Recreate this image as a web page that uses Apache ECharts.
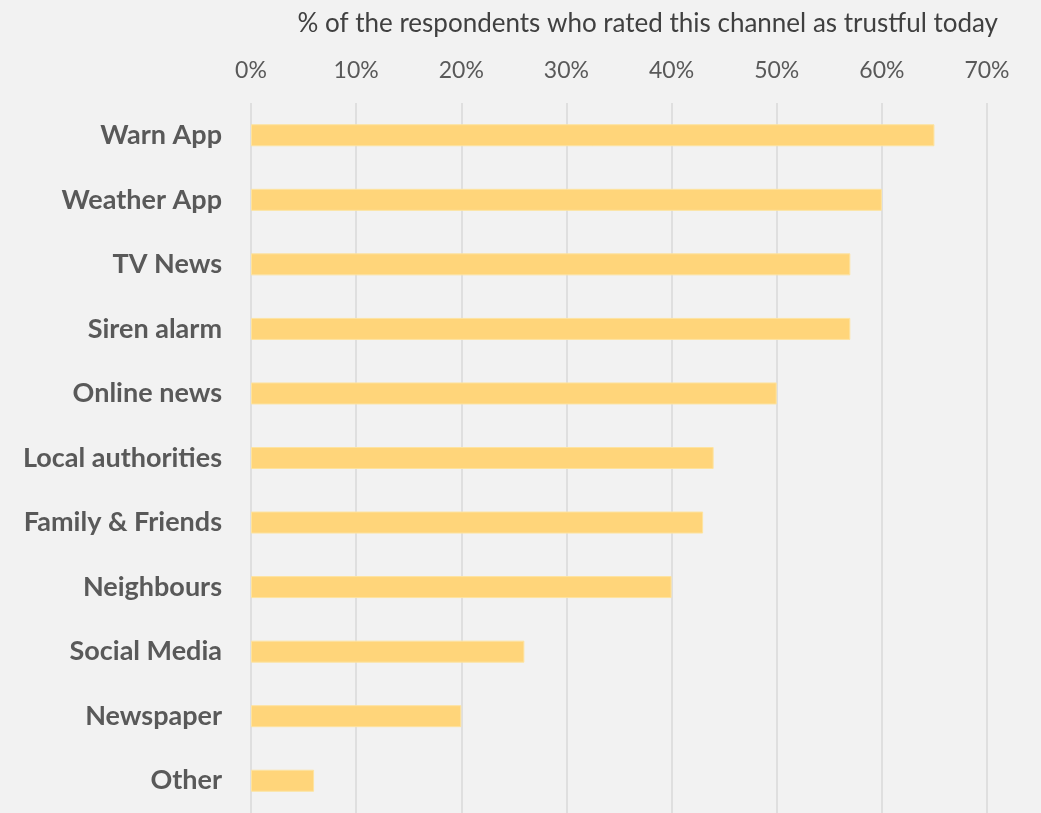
<!DOCTYPE html>
<html>
<head>
<meta charset="utf-8">
<script src="https://cdn.jsdelivr.net/npm/echarts@6/dist/echarts.min.js"></script>
<style>
  html, body { margin: 0; padding: 0; background: #f2f2f2; }
  #chart { width: 1041px; height: 813px; }
</style>
</head>
<body>
<div id="chart"></div>
<script>
// Trust in information channels (share of respondents, %)
const channels = [
  'Warn App', 'Weather App', 'TV News', 'Siren alarm', 'Online news',
  'Local authorities', 'Family & Friends', 'Neighbours', 'Social Media',
  'Newspaper', 'Other'
];
const trustShare = [65, 60, 57, 57, 50, 44, 43, 40, 26, 20, 6];
const axisTitle = '% of the respondents who rated this channel as trustful today';

const FONT = 'Lato, "Open Sans", sans-serif';

const chart = echarts.init(document.getElementById('chart'), null, { renderer: 'canvas' });
chart.setOption({
  backgroundColor: '#f2f2f2',
  animation: false,
  title: {
    text: axisTitle,
    right: 38,
    top: 6,
    textStyle: { color: '#404040', fontFamily: FONT, fontWeight: 'normal', fontSize: 26 }
  },
  grid: { left: 251, right: 54, top: 103, bottom: -1, containLabel: false },
  xAxis: {
    type: 'value',
    position: 'top',
    min: 0,
    max: 70,
    interval: 10,
    axisLine: { show: false },
    axisTick: { show: false },
    axisLabel: {
      formatter: '{value}%',
      color: '#595959',
      fontFamily: FONT,
      fontSize: 23,
      margin: 21
    },
    splitLine: { show: true, lineStyle: { color: '#d9d9d9', width: 1.5 } }
  },
  yAxis: {
    type: 'category',
    inverse: true,
    data: channels,
    axisLine: { show: false },
    axisTick: { show: false },
    axisLabel: {
      color: '#595959',
      fontFamily: FONT,
      fontWeight: 'bold',
      fontSize: 27,
      margin: 29
    }
  },
  series: [{
    type: 'bar',
    data: trustShare,
    barWidth: 22,
    itemStyle: { color: '#ffd57a', borderColor: '#fde3a0', borderWidth: 1 }
  }]
});
</script>
</body>
</html>
